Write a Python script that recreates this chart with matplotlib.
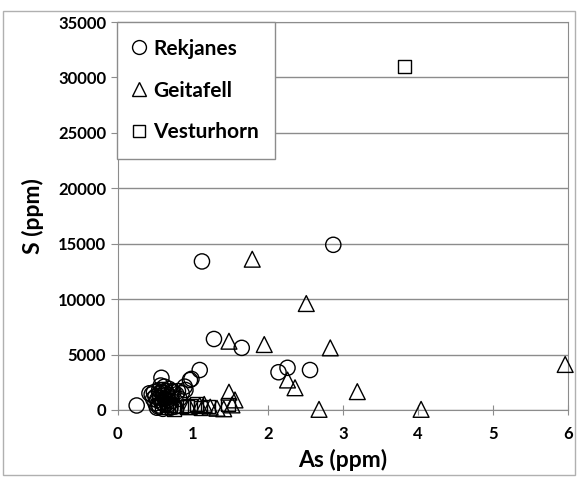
import matplotlib
matplotlib.use("Agg")
from matplotlib import pyplot as plt
from matplotlib.patches import Rectangle
from matplotlib.lines import Line2D

plt.rcParams['font.family'] = ['Lato', 'DejaVu Sans']
plt.rcParams['font.weight'] = 'bold'

# Rekjanes (circles)
rek_as = [2.87, 1.12, 1.28, 1.65, 2.14, 2.26, 2.56, 1.09, 0.98, 0.89,
          0.25, 0.45, 0.48, 0.50, 0.52, 0.55, 0.58, 0.60, 0.62, 0.63,
          0.65, 0.66, 0.68, 0.70, 0.72, 0.74, 0.76, 0.78, 0.80, 0.82,
          0.85, 0.90, 0.96, 0.55, 0.60, 0.70, 0.42, 0.57,
          0.52, 0.56, 0.58, 0.60, 0.62, 0.64, 0.66, 0.68, 0.55, 0.50,
          0.47, 0.62, 0.58, 0.66, 0.72, 0.54, 0.60]
rek_s = [14900, 13400, 6400, 5600, 3400, 3800, 3600, 3600, 2800, 2100,
         400, 1400, 1600, 1200, 200, 1500, 2900, 1800, 2100, 1000,
         600, 1400, 1900, 1200, 800, 1600, 300, 1400, 1700, 1000,
         1500, 1800, 2700, 400, 100, 200, 1500, 2200,
         900, 1100, 700, 1300, 500, 1700, 900, 500, 1800, 600,
         1000, 1500, 1600, 1200, 1700, 300, 600]

# Geitafell (triangles)
gei_as = [1.79, 2.51, 1.95, 1.48, 2.83, 5.96, 2.26, 2.36, 3.19, 2.68,
          4.04, 1.48, 1.56, 1.52, 1.41, 1.09, 1.23, 1.32, 0.95, 1.15]
gei_s = [13600, 9600, 5900, 6200, 5600, 4100, 2700, 2000, 1650, 50,
         50, 1600, 900, 450, 100, 400, 250, 150, 300, 500]

# Vesturhorn (squares)
ves_as = [3.82, 0.65, 0.75, 0.85, 0.92, 0.96, 1.05, 1.10, 1.20, 1.47, 0.70]
ves_s = [31000, 200, 100, 300, 250, 400, 550, 150, 300, 500, 400]

fig = plt.figure(figsize=(5.78, 4.8), dpi=100)
fig.patches.append(Rectangle((0.006, 0.01), 0.988, 0.968, transform=fig.transFigure,
                             fill=False, edgecolor='#b0b0b0', linewidth=1))
ax = fig.add_axes([0.204, 0.146, 0.779, 0.808])

mk = dict(facecolor='none', edgecolor='black', linewidths=1.0, zorder=3, clip_on=False)
ax.scatter(rek_as, rek_s, marker='o', s=120, **mk)
ax.scatter(gei_as, gei_s, marker='^', s=130, **mk)
ax.scatter(ves_as, ves_s, marker='s', s=95, **mk)

ax.set_xlim(0, 6)
ax.set_ylim(0, 35000)
ax.set_xticks(range(0, 7))
ax.set_yticks(range(0, 35001, 5000))
ax.yaxis.grid(True, color='#8c8c8c', linewidth=1)
ax.set_axisbelow(True)
for sp in ax.spines.values():
    sp.set_color('#8c8c8c')
ax.tick_params(axis='both', colors='#8c8c8c', labelcolor='black', labelsize=12,
               length=5, direction='out')
ax.tick_params(axis='x', direction='inout', length=7, pad=8)

ax.set_xlabel('As (ppm)', fontsize=16.5, fontweight='bold', labelpad=5)
ax.set_ylabel('S (ppm)', fontsize=16.5, fontweight='bold', labelpad=10)

handles = [Line2D([], [], marker='o', ls='none', mfc='none', mec='black', ms=10, mew=1),
           Line2D([], [], marker='^', ls='none', mfc='none', mec='black', ms=10, mew=1),
           Line2D([], [], marker='s', ls='none', mfc='none', mec='black', ms=9, mew=1)]
leg = ax.legend(handles, ['Rekjanes', 'Geitafell', 'Vesturhorn'], loc='upper left',
                bbox_to_anchor=(-0.003, 1.0), prop={'size': 15, 'weight': 'bold'},
                fancybox=False, framealpha=1, edgecolor='#8c8c8c', handlelength=0.6,
                handletextpad=0.35, labelspacing=1.05, borderpad=0.8, borderaxespad=0)
leg.get_frame().set_linewidth(1)

plt.savefig("out.png", dpi=100)
